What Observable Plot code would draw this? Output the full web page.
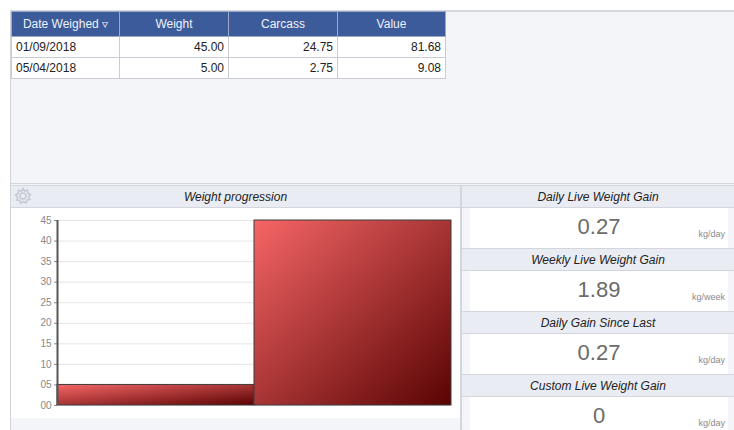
<!DOCTYPE html>
<html>
<head>
<meta charset="utf-8">
<script src="https://cdn.jsdelivr.net/npm/d3@7"></script>
<script src="https://cdn.jsdelivr.net/npm/@observablehq/plot@0.6"></script>
<style>
  html, body { margin: 0; padding: 0; width: 734px; height: 430px; overflow: hidden; background: #ffffff;
    font-family: "Liberation Sans", Arial, sans-serif; }
  .abs { position: absolute; box-sizing: border-box; }
  #panel { left: 10px; top: 10px; width: 724px; height: 420px; background: #f4f5f9; border-top: 2px solid #d6d8dd; border-left: 1px solid #d0d3da; }
  table { position: absolute; left: 11px; top: 11px; border-collapse: collapse; font-size: 12px; }
  th { background: #3b5b9b; color: #eef2fa; font-weight: normal; height: 24px; padding: 0 4px; border: 1px solid #9aa9c8; text-align: center; }
  td { background: #fff; height: 20px; border: 1px solid #c9ccd2; padding: 0 4px; color: #222; }
  .hdr { background: #e9ecf3; border-top: 1px solid #d3d6dd; border-bottom: 1px solid #d3d6dd; font-style: italic; font-size: 12px; color: #222;
    display: flex; align-items: center; justify-content: center; }
  .val { background: #fff; }
  .num { position: absolute; left: 0; width: 258px; text-align: center; font-size: 22px; color: #6b6b6b; top: 6px; }
  .unit { position: absolute; right: 3px; bottom: 9px; font-size: 9px; color: #8a8a8a; }
</style>
</head>
<body>
<div id="panel" class="abs"></div>
<table id="tbl"></table>
<div class="abs" style="left:10px;top:183px;width:724px;height:1px;background:#d3d6dd"></div>
<div class="abs hdr" style="left:11px;top:185px;width:449px;height:23px;">Weight progression</div>
<div class="abs" style="left:14px;top:187px;width:18px;height:18px;">
  <svg width="18" height="18" viewBox="0 0 18 18"><g fill="none" stroke="#c4c8d0" stroke-width="1.5">
    <circle cx="9" cy="9" r="3"/>
    <path d="M9 1.5 L10.5 4 L13.5 3 L13.8 6 L16.5 7.5 L14.5 9.8 L16 12.5 L13 13 L12.2 16 L9.5 14.5 L6.8 16.3 L5.8 13.3 L2.8 13 L3.8 10 L1.5 8 L4.3 6.5 L4.3 3.3 L7.3 4.3 Z"/>
  </g></svg>
</div>
<div class="abs" style="left:460px;top:185px;width:2px;height:245px;background:#d3d6dd"></div>
<div id="chart" class="abs" style="left:11px;top:208px;width:449px;height:210px;background:#fff"></div>
<div id="side"></div>
<script>
// ---- data ----
const tableHeaders = ["Date Weighed \u25BF", "Weight", "Carcass", "Value"];
const weighDates = ["01/09/2018", "05/04/2018"];
const weights = [45.00, 5.00];
const carcass = [24.75, 2.75];
const values = [81.68, 9.08];

const chartDates = ["05/04/2018", "01/09/2018"];
const chartWeights = [5, 45];
const yTicks = [0, 5, 10, 15, 20, 25, 30, 35, 40, 45];

const gainTitles = ["Daily Live Weight Gain", "Weekly Live Weight Gain", "Daily Gain Since Last", "Custom Live Weight Gain"];
const gainValues = ["0.27", "1.89", "0.27", "0"];
const gainUnits = ["kg/day", "kg/week", "kg/day", "kg/day"];

// ---- table ----
const colW = [108, 109, 109, 108];
const tbl = document.getElementById("tbl");
let h = "<tr>" + tableHeaders.map((t, i) => `<th style="width:${colW[i]-9}px">${t}</th>`).join("") + "</tr>";
weighDates.forEach((d, i) => {
  h += `<tr><td>${d}</td><td style="text-align:right">${weights[i].toFixed(2)}</td><td style="text-align:right">${carcass[i].toFixed(2)}</td><td style="text-align:right">${values[i].toFixed(2)}</td></tr>`;
});
tbl.innerHTML = h;

// ---- side panels ----
const side = document.getElementById("side");
gainTitles.forEach((t, i) => {
  const top = 185 + i * 63;
  side.insertAdjacentHTML("beforeend",
    `<div class="abs hdr" style="left:462px;top:${top}px;width:272px;height:23px;">${t}</div>
     <div class="abs val" style="left:470px;top:${top + 23}px;width:258px;height:40px;">
       <div class="num">${gainValues[i]}</div><div class="unit">${gainUnits[i]}</div></div>`);
});

// ---- chart ----
const data = chartDates.map((d, i) => ({date: d, weight: chartWeights[i], i}));
const chart = Plot.plot({
  width: 449,
  height: 210,
  marginLeft: 46,
  marginRight: 9,
  marginTop: 12,
  marginBottom: 13,
  style: {background: "#ffffff", fontFamily: "'Liberation Sans', Arial, sans-serif", fontSize: "10px", color: "#888"},
  x: {domain: [0, chartDates.length], axis: null},
  y: {domain: [0, 45], ticks: yTicks, tickFormat: d3.format("02d"), tickSize: 3, tickPadding: 3, label: null},
  marks: [
    Plot.gridY(yTicks, {stroke: "#e6e6e6", strokeOpacity: 1}),
    Plot.rectY(data, {x1: "i", x2: d => d.i + 1, y: "weight", fill: "url(#wpGrad)", stroke: "#3c3c3c", strokeWidth: 1}),
    Plot.ruleX([0], {stroke: "#555", strokeWidth: 2})
  ]
});
const defs = d3.select(chart).insert("defs", ":first-child");
const g = defs.append("linearGradient").attr("id", "wpGrad").attr("x1", 0).attr("y1", 0).attr("x2", 1).attr("y2", 1);
g.append("stop").attr("offset", "0%").attr("stop-color", "#f66666");
g.append("stop").attr("offset", "100%").attr("stop-color", "#5a0303");
document.getElementById("chart").appendChild(chart);
</script>
</body>
</html>
